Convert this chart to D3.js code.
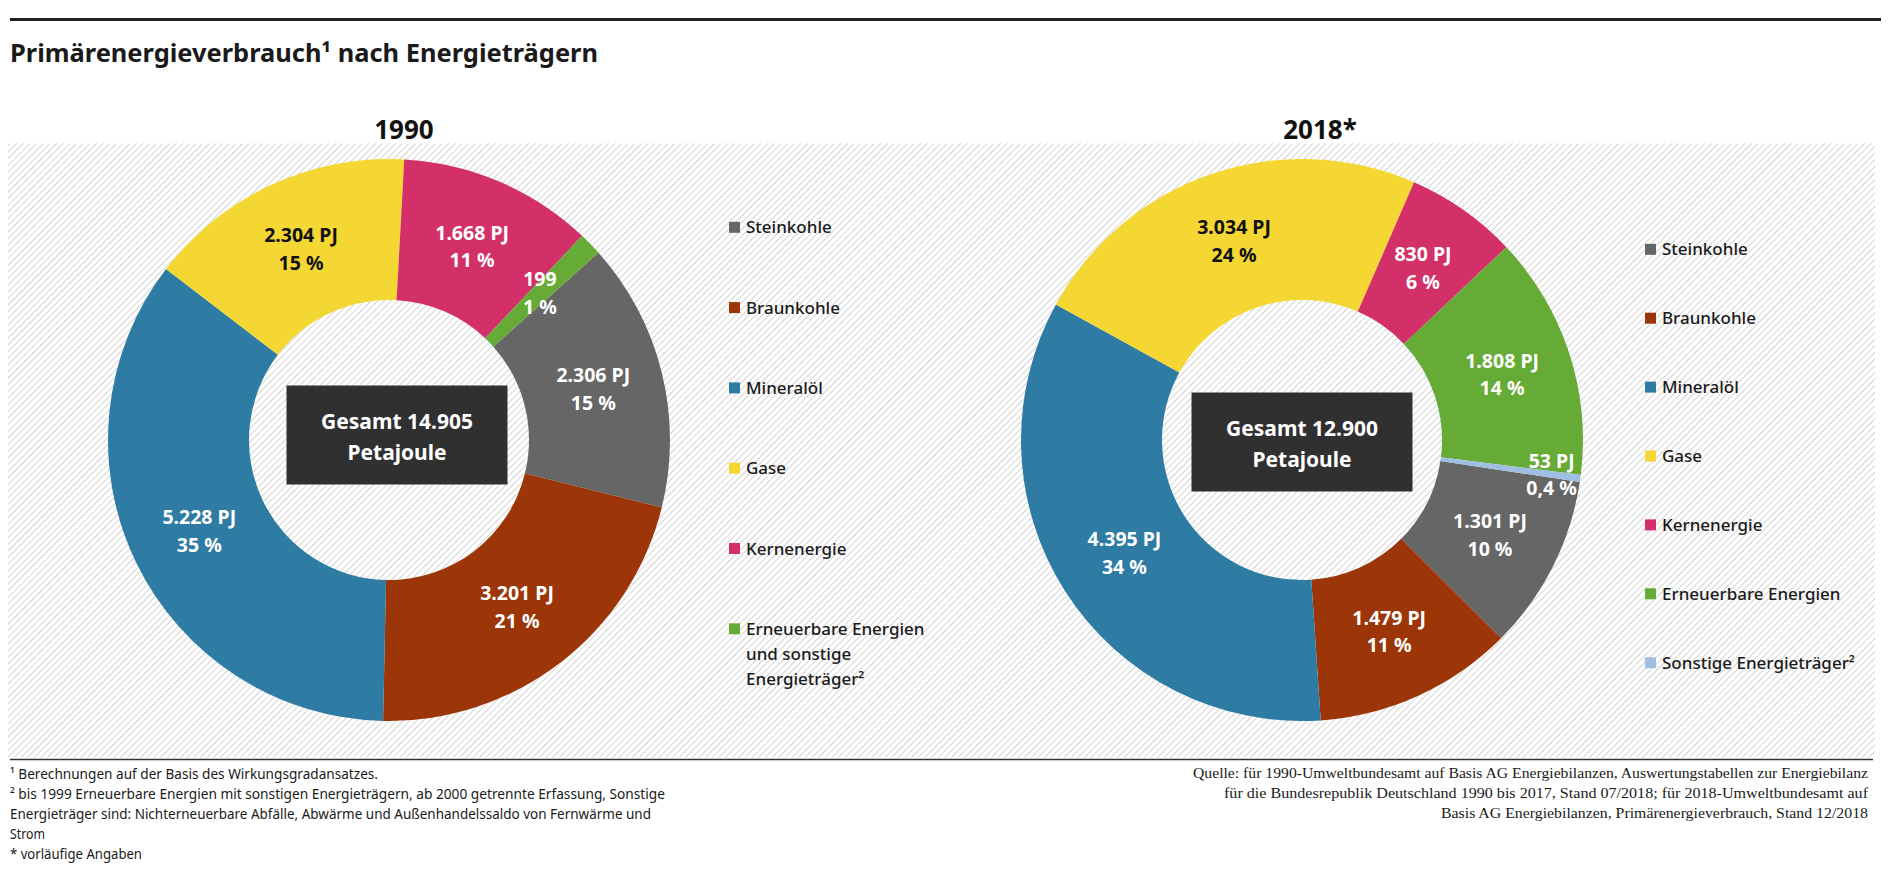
<!DOCTYPE html>
<html lang="de">
<head>
<meta charset="utf-8">
<script src="https://cdn.jsdelivr.net/npm/d3@7"></script>
<style>
  html, body { margin: 0; padding: 0; background: #fff; }
  svg { display: block; }
</style>
</head>
<body>
<svg id="chart" width="1897" height="870"></svg>
<script>
// --- data ---
const categories1990 = [
  "Steinkohle",
  "Braunkohle",
  "Mineralöl",
  "Gase",
  "Kernenergie",
  "Erneuerbare Energien und sonstige Energieträger²",
];
const values1990 = [2306, 3201, 5228, 2304, 1668, 199];
const percent1990 = [15, 21, 35, 15, 11, 1];
const units1990 = ["PJ", "PJ", "PJ", "PJ", "PJ", ""];
const total1990 = 14905;

const categories2018 = [
  "Steinkohle",
  "Braunkohle",
  "Mineralöl",
  "Gase",
  "Kernenergie",
  "Erneuerbare Energien",
  "Sonstige Energieträger²",
];
const values2018 = [1301, 1479, 4395, 3034, 830, 1808, 53];
const percent2018 = [10, 11, 34, 24, 6, 14, 0.4];
const units2018 = ["PJ", "PJ", "PJ", "PJ", "PJ", "PJ", "PJ"];
const total2018 = 12900;

const colors = ["#666666", "#9c3507", "#2e7ba3", "#f4d733", "#d33069", "#66ab36", "#9fbee2"];
const darkLabel = ["Gase"];

const footnotesLeft = [
  "¹ Berechnungen auf der Basis des Wirkungsgradansatzes.",
  "² bis 1999 Erneuerbare Energien mit sonstigen Energieträgern, ab 2000 getrennte Erfassung, Sonstige",
  "Energieträger sind: Nichterneuerbare Abfälle, Abwärme und Außenhandelssaldo von Fernwärme und",
  "Strom",
  "* vorläufige Angaben",
];
const footnotesRight = [
  "Quelle: für 1990-Umweltbundesamt auf Basis AG Energiebilanzen, Auswertungstabellen zur Energiebilanz",
  "für die Bundesrepublik Deutschland 1990 bis 2017, Stand 07/2018; für 2018-Umweltbundesamt auf",
  "Basis AG Energiebilanzen, Primärenergieverbrauch, Stand 12/2018",
];

// --- setup ---
const de = d3.formatLocale({ decimal: ",", thousands: ".", grouping: [3], currency: ["", " €"] });
const fmtInt = de.format(",d");
const fmtPct = (p) => (p < 1 ? de.format(",.1f")(p) : fmtInt(p)) + " %";

const svg = d3.select("#chart");
const FONT = "'Noto Sans', 'Open Sans', sans-serif";

const defs = svg.append("defs");
defs
  .append("pattern")
  .attr("id", "hatch")
  .attr("patternUnits", "userSpaceOnUse")
  .attr("width", 4.7)
  .attr("height", 4.7)
  .attr("patternTransform", "rotate(45)")
  .append("line")
  .attr("x1", 0)
  .attr("y1", 0)
  .attr("x2", 0)
  .attr("y2", 4.7)
  .attr("stroke", "#c4c4c4")
  .attr("stroke-width", 1.5);

// frame
svg.append("line")
  .attr("x1", 10).attr("x2", 1881).attr("y1", 19.5).attr("y2", 19.5)
  .attr("stroke", "#222").attr("stroke-width", 3);

svg.append("text")
  .attr("x", 10)
  .attr("y", 62)
  .attr("textLength", 588)
  .attr("lengthAdjust", "spacingAndGlyphs")
  .style("font-family", FONT)
  .style("font-weight", "bold")
  .style("font-size", "25px")
  .style("fill", "#1a1a1a")
  .text("Primärenergieverbrauch¹ nach Energieträgern");

svg.append("rect")
  .attr("x", 8).attr("y", 143.5).attr("width", 1867).attr("height", 614)
  .attr("fill", "url(#hatch)");

svg.append("line")
  .attr("x1", 10).attr("x2", 1873).attr("y1", 759.5).attr("y2", 759.5)
  .attr("stroke", "#333").attr("stroke-width", 1.5);

// --- donuts ---
const charts = [
  {
    year: "1990",
    categories: categories1990,
    values: values1990,
    percent: percent1990,
    units: units1990,
    total: total1990,
    cx: 389, cy: 440,
    titleX: 404,
    start: 48.2,
    box: { dx: 8, dy: -5 },
    legend: { x: 729, y: 227.3, step: 80.3, wrap: 190 },
  },
  {
    year: "2018*",
    categories: categories2018,
    values: values2018,
    percent: percent2018,
    units: units2018,
    total: total2018,
    cx: 1302, cy: 440,
    titleX: 1320,
    start: 98.6,
    box: { dx: 0, dy: 2 },
    legend: { x: 1645, y: 249.3, step: 68.9, wrap: 300 },
  },
];

const outerR = 281;
const innerR = 140;

charts.forEach((c) => {
  const rad = (c.start * Math.PI) / 180;
  const pie = d3.pie().sort(null).startAngle(rad).endAngle(rad + 2 * Math.PI);
  const arc = d3.arc().innerRadius(innerR).outerRadius(outerR);
  const slices = pie(c.values).map((d, i) => ({ ...d, i }));

  svg.append("text")
    .attr("x", c.titleX)
    .attr("y", 139)
    .style("text-anchor", "middle")
    .style("font-family", FONT)
    .style("font-weight", "bold")
    .style("font-size", "26px")
    .style("fill", "#111")
    .text(c.year);

  const g = svg.append("g").attr("transform", `translate(${c.cx},${c.cy})`);

  g.selectAll(".slice")
    .data(slices)
    .join("path")
    .attr("class", "slice")
    .attr("d", arc)
    .attr("fill", (d) => colors[d.i]);

  // labels sit on the arc centroid, tiny slices get pushed outward
  const labelGrp = g
    .selectAll(".slice-label")
    .data(slices)
    .join("text")
    .attr("class", "slice-label")
    .attr("transform", (d) => {
      const share = d.value / d3.sum(c.values);
      let [x, y] = arc.centroid(d);
      if (share < 0.01) {
        const r = 252;
        const a = (d.startAngle + d.endAngle) / 2;
        x = Math.sin(a) * r;
        y = -Math.cos(a) * r;
      }
      return `translate(${x},${y})`;
    })
    .style("text-anchor", "middle")
    .style("font-family", FONT)
    .style("font-weight", "bold")
    .style("font-size", "19.5px")
    .style("fill", (d) => (darkLabel.includes(c.categories[d.i]) ? "#111" : "#fff"));

  labelGrp.append("tspan")
    .attr("x", 0)
    .attr("y", -6.8)
    .text((d) => `${fmtInt(d.value)}${c.units[d.i] ? " " + c.units[d.i] : ""}`);
  labelGrp.append("tspan")
    .attr("x", 0)
    .attr("y", 20.8)
    .text((d) => fmtPct(c.percent[d.i]));

  // centre box
  const bw = 221, bh = 99;
  const box = g.append("g").attr("transform", `translate(${c.box.dx},${c.box.dy})`);
  box.append("rect")
    .attr("x", -bw / 2).attr("y", -bh / 2).attr("width", bw).attr("height", bh)
    .attr("fill", "#303030");
  const bt = box.append("text")
    .style("text-anchor", "middle")
    .style("font-family", FONT)
    .style("font-weight", "bold")
    .style("font-size", "21px")
    .style("fill", "#fff");
  bt.append("tspan").attr("x", 0).attr("y", -6).text(`Gesamt ${fmtInt(c.total)}`);
  bt.append("tspan").attr("x", 0).attr("y", 25).text("Petajoule");

  // legend
  const leg = svg.append("g");
  c.categories.forEach((name, i) => {
    const y = c.legend.y + i * c.legend.step;
    leg.append("rect")
      .attr("x", c.legend.x).attr("y", y - 5.5).attr("width", 11).attr("height", 11)
      .attr("fill", colors[i]);
    const t = leg.append("text")
      .attr("x", c.legend.x + 17)
      .attr("y", y + 6)
      .style("font-family", FONT)
      .style("font-weight", 500)
      .style("font-size", "17px")
      .style("fill", "#1a1a1a");
    // simple word wrap
    const words = name.split(" ");
    let line = [];
    let tspan = t.append("tspan").attr("x", c.legend.x + 17).attr("dy", 0);
    words.forEach((w) => {
      line.push(w);
      tspan.text(line.join(" "));
      if (tspan.node().getComputedTextLength() > c.legend.wrap && line.length > 1) {
        line.pop();
        tspan.text(line.join(" "));
        line = [w];
        tspan = t.append("tspan").attr("x", c.legend.x + 17).attr("dy", 25).text(w);
      }
    });
  });
});

// --- footnotes ---
const leftWidths = [368, 655, 641, 35, 132];
svg.append("g")
  .selectAll("text")
  .data(footnotesLeft)
  .join("text")
  .attr("x", 10)
  .attr("y", (d, i) => 779 + i * 20)
  .attr("textLength", (d, i) => leftWidths[i])
  .attr("lengthAdjust", "spacingAndGlyphs")
  .style("font-family", FONT)
  .style("font-size", "14px")
  .style("fill", "#1a1a1a")
  .text((d) => d);

const rightWidths = [675, 644, 427];
svg.append("g")
  .selectAll("text")
  .data(footnotesRight)
  .join("text")
  .attr("x", (d, i) => 1868 - rightWidths[i])
  .attr("y", (d, i) => 778 + i * 20)
  .attr("textLength", (d, i) => rightWidths[i])
  .attr("lengthAdjust", "spacingAndGlyphs")
  .style("font-family", "'Liberation Serif', 'DejaVu Serif', serif")
  .style("font-size", "15px")
  .style("fill", "#1a1a1a")
  .text((d) => d);
</script>
</body>
</html>
